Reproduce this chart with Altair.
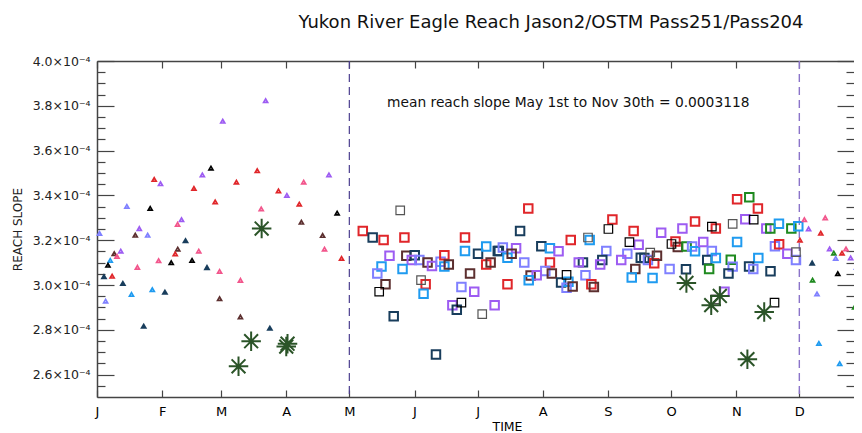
import altair as alt
import pandas as pd

# ---------------- data ----------------
# day of year, reach slope (x1e-4), series
tri_day = [59.8, 54.2, 50.1, 27.2, 30.2, 46.1, 56.2, 14.2, 25.3, 40.2, 38.3, 20.1, 1.2, 18.2, 24.1,
           42.1, 11.3, 38.4, 8.2, 9.5, 37.2, 48.4, 6.3, 29.3, 35.3, 45.2, 5.2, 19.2, 52.3, 58.3,
           3.3, 7.2, 12.3, 16.4, 26.3, 32.3, 58.3, 4.1, 22.2, 80.2, 76.2, 66.3, 98.3, 110.3, 86.3,
           90.3, 96.2, 78.1, 114.2, 97.2, 107.3, 108.2, 116.3, 68.2, 68.2, 82.2,
           336.4, 346.3, 338.4, 344.2, 334.3, 348.4, 350.4, 356.2, 354.3, 351.3, 358.4, 361.2,
           340.1, 352.3, 340.3, 342.4, 360.3, 343.3, 353.2, 362.5]
tri_slope = [3.731, 3.522, 3.491, 3.471, 3.452, 3.431, 3.371, 3.351, 3.342, 3.292, 3.271, 3.252, 3.230, 3.222, 3.222,
             3.200, 3.151, 3.160, 3.140, 3.128, 3.139, 3.151, 3.110, 3.109, 3.100, 3.110, 3.088, 3.079, 3.080, 3.061,
             3.039, 3.039, 3.009, 2.958, 2.979, 2.970, 2.939, 2.928, 2.818, 3.823, 3.510, 3.459, 3.459, 3.491, 3.420,
             3.400, 3.361, 3.340, 3.321, 3.280, 3.221, 3.160, 3.119, 3.021, 2.858, 2.809,
             3.292, 3.300, 3.250, 3.231, 3.200, 3.161, 3.142, 3.161, 3.142, 3.119, 3.121, 3.079,
             3.100, 3.051, 3.022, 2.960, 2.901, 2.739, 2.649, 3.045]
tri_series = ["purple", "black", "purple", "red", "purple", "red", "red", "lavender", "black", "purple", "pink", "purple", "lavender", "brown", "lavender",
              "navy", "purple", "brown", "brown", "pink", "red", "pink", "blue", "pink", "black", "black", "black", "pink", "navy", "pink",
              "navy", "red", "navy", "blue", "blue", "navy", "brown", "lavender", "navy", "purple", "red", "red", "pink", "purple", "red",
              "purple", "red", "pink", "black", "brown", "brown", "pink", "red", "pink", "brown", "navy",
              "pink", "pink", "purple", "red", "red", "purple", "green", "pink", "red", "lavender", "purple", "lavender",
              "navy", "black", "green", "lavender", "green", "blue", "blue", "black"]

sq_day = [144.2, 126.4, 131.1, 136.3, 146.2, 175.0, 139.1, 147.1, 151.1, 149.7, 153.3, 157.2, 159.3, 163.4, 165.2,
          165.2, 167.3, 175.0, 181.2, 185.1, 190.6, 185.1, 187.2, 135.3, 133.3, 145.3, 177.4, 154.1, 156.3, 137.2,
          134.2, 155.3, 173.3, 179.4, 169.0, 173.3, 171.1, 183.2, 189.1, 141.1, 161.2, 205.1, 201.2, 245.1, 243.2,
          255.2, 225.3, 233.5, 234.3, 253.2, 257.6, 191.1, 193.0, 199.3, 195.2, 197.2, 211.3, 215.4, 219.5, 203.2,
          215.4, 242.2, 240.3, 252.2, 249.3, 239.3, 231.1, 229.1, 258.6, 256.0, 254.3, 213.2, 216.3, 206.2, 209.1,
          205.3, 223.3, 232.3, 220.7, 224.2, 223.3, 226.2, 235.1, 236.3, 195.2, 304.4, 310.2, 314.3, 308.3, 312.3,
          284.4, 302.3, 278.4, 292.4, 294.3, 268.3, 318.3, 320.2, 324.3, 330.2, 333.5, 273.2, 275.1, 276.2, 280.4,
          283.0, 284.4, 288.3, 292.4, 290.2, 294.3, 304.4, 322.4, 324.4, 328.3, 332.4, 332.4, 301.4, 302.3, 300.3,
          291.1, 280.1, 314.5, 310.1, 312.1, 320.3, 272.3, 264.2, 260.3, 262.0, 265.0, 266.3, 263.1, 298.4, 294.0, 322.2]
sq_slope = [3.333, 3.241, 3.212, 3.201, 3.212, 3.212, 3.131, 3.131, 3.133, 3.112, 3.112, 3.100, 3.085, 3.104, 3.133,
            3.083, 3.091, 3.152, 3.140, 3.172, 3.152, 3.091, 3.100, 3.083, 3.051, 3.071, 3.051, 3.022, 3.003, 3.003,
            2.970, 2.961, 2.991, 2.970, 2.910, 2.921, 2.890, 2.870, 2.910, 2.861, 2.690, 3.342, 3.241, 3.292, 3.250,
            3.241, 3.201, 3.212, 3.201, 3.191, 3.180, 3.152, 3.167, 3.164, 3.122, 3.140, 3.173, 3.164, 3.151, 3.100,
            3.100, 3.152, 3.112, 3.140, 3.112, 3.092, 3.101, 3.101, 3.122, 3.071, 3.033, 3.062, 3.051, 3.042, 3.043,
            3.021, 3.045, 3.043, 3.011, 3.015, 2.988, 2.993, 3.003, 2.991, 3.003, 3.383, 3.392, 3.342, 3.294, 3.292,
            3.283, 3.273, 3.252, 3.261, 3.252, 3.233, 3.252, 3.252, 3.273, 3.252, 3.262, 3.183, 3.194, 3.170, 3.172,
            3.172, 3.151, 3.192, 3.152, 3.112, 3.121, 3.192, 3.173, 3.182, 3.140, 3.147, 3.112, 3.113, 3.082, 3.051,
            3.071, 3.070, 3.121, 3.083, 3.071, 3.061, 3.071, 3.031, 3.121, 3.112, 3.097, 3.131, 3.145, 2.970, 2.936, 2.921]
sq_series = ["gray", "red", "navy", "red", "red", "red", "purple", "brown", "navy", "purple", "lavender", "brown", "purple", "lavender", "red",
             "blue", "brown", "blue", "navy", "blue", "navy", "red", "brown", "blue", "lavender", "blue", "brown", "gray", "red", "brown",
             "black", "blue", "lavender", "purple", "purple", "black", "navy", "gray", "purple", "navy", "navy", "red", "navy", "red", "black",
             "red", "red", "gray", "blue", "black", "purple", "navy", "lavender", "purple", "blue", "brown", "navy", "blue", "purple", "lavender",
             "red", "lavender", "navy", "lavender", "purple", "purple", "navy", "purple", "navy", "brown", "blue", "lavender", "brown", "brown", "purple",
             "blue", "black", "lavender", "navy", "blue", "lavender", "brown", "red", "brown", "red", "red", "green", "red", "purple", "black",
             "red", "gray", "purple", "black", "red", "purple", "purple", "green", "blue", "green", "blue", "black", "red", "brown", "green",
             "lavender", "blue", "purple", "lavender", "navy", "blue", "blue", "lavender", "red", "purple", "gray", "lavender", "green", "lavender", "navy",
             "green", "navy", "blue", "navy", "lavender", "navy", "lavender", "blue", "navy", "lavender", "red", "brown", "gray", "purple", "gray", "black"]

ast_day = [78.3, 73.3, 90.6, 90.0, 67.3, 280.3, 296.2, 292.1, 317.3, 309.3]
ast_slope = [3.252, 2.749, 2.738, 2.725, 2.637, 3.009, 2.951, 2.910, 2.879, 2.669]

series_names = ["red", "pink", "purple", "lavender", "blue", "navy", "brown", "black", "gray", "green"]
series_colors = ["#e0262a", "#f2568c", "#9d5cf2", "#7f80ff", "#1f9bf0", "#183d5c", "#5c2f2f", "#000000", "#555555", "#1f8a1f"]

month_days = [0, 31, 59, 90, 120, 151, 181, 212, 243, 273, 304, 334]
month_labels = ["J", "F", "M", "A", "M", "J", "J", "A", "S", "O", "N", "D"]
y_major = [2.6, 2.8, 3.0, 3.2, 3.4, 3.6, 3.8, 4.0]
y_minor = [2.55, 2.65, 2.7, 2.75, 2.85, 2.9, 2.95, 3.05, 3.1, 3.15, 3.25, 3.3, 3.35,
           3.45, 3.5, 3.55, 3.65, 3.7, 3.75, 3.85, 3.9, 3.95]
season_lines = [120, 334]

title_text = "Yukon River Eagle Reach Jason2/OSTM Pass251/Pass204"
note_text = "mean reach slope May 1st to Nov 30th = 0.0003118"

# ---------------- tables ----------------
E = 1e-4
tri = pd.DataFrame({"day": tri_day, "slope": [v * E for v in tri_slope], "series": tri_series})
sq = pd.DataFrame({"day": sq_day, "slope": [v * E for v in sq_slope], "series": sq_series})
ast = pd.DataFrame({"day": ast_day, "slope": [v * E for v in ast_slope]})
ymaj = [v * E for v in y_major]
ymin = [v * E for v in y_minor]

FONT = "DejaVu Sans"
FRAME = "#444"
xs = alt.Scale(domain=[0, 360], nice=False, zero=False)
ys = alt.Scale(domain=[2.5e-4, 4.0e-4], nice=False, zero=False)
col = alt.Color("series:N", scale=alt.Scale(domain=series_names, range=series_colors), legend=None)

lab_arr = "[" + ",".join("'%s'" % m for m in month_labels) + "]"
day_arr = "[" + ",".join(str(d) for d in month_days) + "]"

ax_bottom = alt.Axis(orient="bottom", values=month_days, labelExpr=f"{lab_arr}[indexof({day_arr}, datum.value)]",
                     offset=-7, tickSize=7, labelPadding=8.5, domain=False, grid=False, labelAngle=0,
                     labelFlush=False, labelOverlap=False, labelFontSize=13, labelFont=FONT, labelColor="black",
                     title="TIME", titleX=410, titleY=36, titleBaseline="middle", titleFontSize=12.5,
                     titleFont=FONT, titleFontWeight="normal", titleColor="black")
ax_top = alt.Axis(orient="top", values=month_days, labels=False, offset=-7, tickSize=7, domain=False, grid=False, title=None)
ax_top_line = alt.Axis(orient="top", ticks=False, labels=False, domain=True, domainColor=FRAME, domainWidth=1.5,
                       grid=False, title=None)
ax_bot_line = alt.Axis(orient="bottom", ticks=False, labels=False, domain=True, domainColor=FRAME, domainWidth=1.5,
                       grid=False, title=None)
ay_lmaj = alt.Axis(orient="left", values=ymaj, labelExpr="format(datum.value*10000, '.1f') + '×10⁻⁴'",
                   offset=-17, tickSize=17, labelPadding=7, domain=False, grid=False, labelFlush=False,
                   labelOverlap=False, labelFontSize=12.5, labelFont=FONT, labelColor="#222",
                   title="REACH SLOPE", titleX=-97, titleY=168, titleAngle=-90, titleBaseline="middle",
                   titleFontSize=12, titleFont=FONT, titleFontWeight="normal", titleColor="#222")
ay_lmin = alt.Axis(orient="left", values=ymin, labels=False, offset=-8, tickSize=8, domain=False, grid=False, title=None)
ay_rmaj = alt.Axis(orient="right", values=ymaj, labels=False, offset=-17, tickSize=17, domain=False, grid=False, title=None)
ay_rmin = alt.Axis(orient="right", values=ymin, labels=False, offset=-8, tickSize=8, domain=False, grid=False, title=None)
ay_left_line = alt.Axis(orient="left", ticks=False, labels=False, domain=True, domainColor=FRAME, domainWidth=1.5,
                        grid=False, title=None)


def X(axis):
    return alt.X("day:Q", scale=xs, axis=axis)


def Y(axis):
    return alt.Y("slope:Q", scale=ys, axis=axis)


lines = pd.DataFrame({"day": season_lines, "which": ["may", "dec"]})
may_line = alt.Chart(lines).transform_filter("datum.which == 'may'").mark_rule(
    color="#4b3f8f", strokeDash=[8, 5], strokeWidth=1.2).encode(x=X(None))
dec_line = alt.Chart(lines).transform_filter("datum.which == 'dec'").mark_rule(
    color="#8b74c9", strokeDash=[8, 5], strokeWidth=1.4).encode(x=X(None))

sq_col = alt.Chart(sq).transform_filter("datum.series != 'black' && datum.series != 'gray'").mark_point(
    shape="square", filled=False, size=72, strokeWidth=2, opacity=1).encode(x=X(ax_bottom), y=Y(ay_lmaj), color=col)
sq_blk = alt.Chart(sq).transform_filter("datum.series == 'black' || datum.series == 'gray'").mark_point(
    shape="square", filled=False, size=72, strokeWidth=1.2, opacity=1).encode(x=X(ax_top), y=Y(ay_lmin), color=col)
tri_small = alt.Chart(tri).transform_filter("datum.series != 'navy'").mark_point(
    shape="triangle-up", filled=False, size=16, strokeWidth=1.7, opacity=1).encode(x=X(ax_bot_line), y=Y(ay_rmaj), color=col)
tri_navy = alt.Chart(tri).transform_filter("datum.series == 'navy'").mark_point(
    shape="triangle-up", filled=True, size=50, opacity=1).encode(x=X(None), y=Y(ay_rmin), color=col)
stars = alt.Chart(ast).mark_point(
    shape="M-1,0L1,0M0,-1L0,1M-0.71,-0.71L0.71,0.71M-0.71,0.71L0.71,-0.71",
    filled=False, size=380, strokeWidth=2, color="#2b5428", opacity=1).encode(x=X(ax_top_line), y=Y(ay_left_line))

texts = pd.DataFrame({"title": [title_text], "note": [note_text]})
title_mark = alt.Chart(texts).mark_text(align="center", baseline="alphabetic", fontSize=18, font=FONT,
                                        color="#111").encode(
    text="title:N", x=alt.value(454), y=alt.value(-33))
note_mark = alt.Chart(texts).mark_text(align="left", baseline="alphabetic", fontSize=13.8, font=FONT,
                                       color="#111").encode(
    text="note:N", x=alt.value(290), y=alt.value(45.7))

chart = alt.layer(may_line, dec_line, sq_col, sq_blk, tri_small, tri_navy, stars, title_mark, note_mark).resolve_axis(
    x="independent", y="independent").properties(
    width=757, height=336,
    autosize=alt.AutoSizeParams(type="none"),
    padding={"left": 89, "top": 53, "right": 0, "bottom": 36},
).configure_view(stroke=None).configure_axis(tickColor=FRAME, tickWidth=1.2)

chart.save("out.html", embed_options={"renderer": "svg", "actions": False})
